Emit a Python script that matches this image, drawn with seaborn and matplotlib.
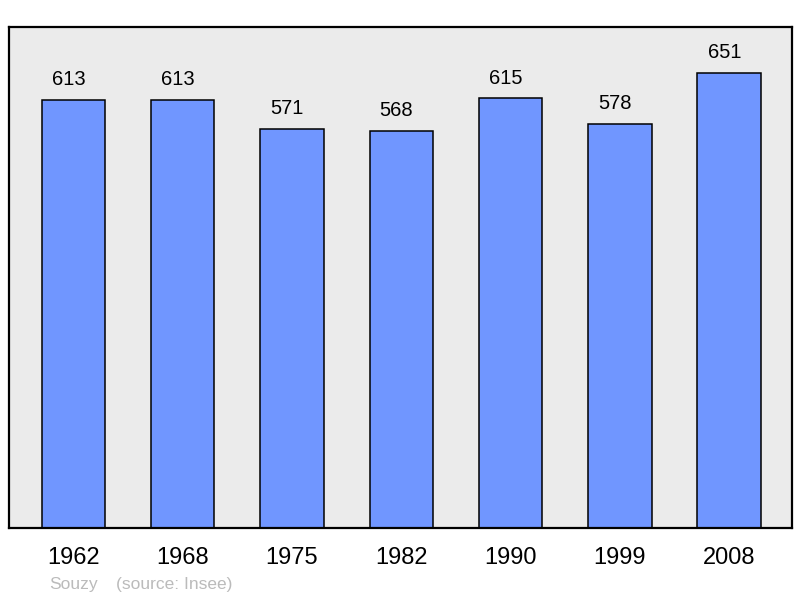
import matplotlib
matplotlib.use("Agg")
import matplotlib.pyplot as plt
import seaborn as sns
import pandas as pd

# données
annees = ["1962", "1968", "1975", "1982", "1990", "1999", "2008"]
population = [613, 613, 571, 568, 615, 578, 651]
commune = "Souzy"
source = "(source: Insee)"

sns.set_style("white")
plt.rcParams['font.family'] = ['Liberation Sans', 'DejaVu Sans']
plt.rcParams['text.color'] = 'black'
plt.rcParams['xtick.color'] = 'black'

df = pd.DataFrame({"annee": annees, "pop": population})

fig = plt.figure(figsize=(8, 5.98), dpi=100)
ax = fig.add_axes([0.01125, 0.117, 0.97875, 0.838])
ax.set_facecolor("#ebebeb")

sns.barplot(data=df, x="annee", y="pop", color="#7096ff", saturation=1,
            width=0.58, edgecolor="black", linewidth=1.1, ax=ax)

# valeurs au-dessus des barres (légèrement décalées à gauche comme l'original)
for i, v in enumerate(population):
    ax.annotate(str(v), (i, v), xytext=(-3.5, 10.5), textcoords="offset points",
                ha="center", va="baseline", fontsize=14.5, color="black")

ax.set_ylim(0, 717)
ax.set_xlim(-0.59, 6.575)
ax.set_yticks([])
ax.set_xlabel("")
ax.set_ylabel("")
ax.tick_params(axis="x", length=0, pad=14, labelsize=17, labelcolor="black")
for s in ax.spines.values():
    s.set_visible(True)
    s.set_color("black")
    s.set_linewidth(1.6)

fig.text(49 / 800, 1 - 584 / 598, commune, color="#bbbbbb", fontsize=12.5, va="center")
fig.text(116 / 800, 1 - 584 / 598, source, color="#bbbbbb", fontsize=12.5, va="center")

fig.savefig("out.png", dpi=100)
